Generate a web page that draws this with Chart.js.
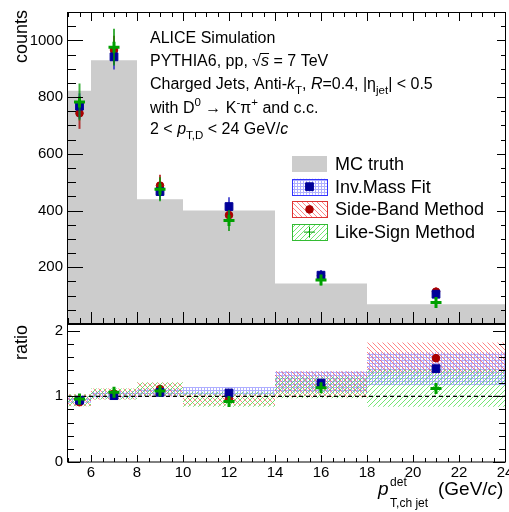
<!DOCTYPE html>
<html>
<head>
<meta charset="utf-8">
<script src="https://cdn.jsdelivr.net/npm/chart.js@4.4.0/dist/chart.umd.min.js"></script>
<style>
  html, body { margin: 0; padding: 0; background: #fff; }
  #wrap { width: 509px; height: 512px; }
</style>
</head>
<body>
<div id="wrap"><canvas id="chart"></canvas></div>
<script>
// bins of the jet pT distribution
const binEdges = [5, 6, 8, 10, 14, 18, 24];
const binCenters = [5.5, 7, 9, 12, 16, 21];
const xTicks = [6, 8, 10, 12, 14, 16, 18, 20, 22, 24];
const countTicks = [200, 400, 600, 800, 1000];
const ratioTicks = [0, 1, 2];

// counts
const mcTruth = [822, 930, 440, 400, 143, 70];
const invMass = [768, 942, 467, 414, 172, 105];
const invMassErr = [45, 45, 30, 33, 18, 14];
const sideBand = [743, 966, 488, 384, 170, 114];
const sideBandErr = [55, 50, 38, 35, 18, 14];
const likeSign = [783, 976, 475, 365, 155, 76];
const likeSignErr = [65, 65, 42, 37, 18, 14];

// ratio to MC truth
const invMassRatio = [0.94, 1.01, 1.06, 1.05, 1.20, 1.42];
const sideBandRatio = [0.91, 1.04, 1.11, 0.96, 1.18, 1.58];
const likeSignRatio = [0.96, 1.06, 1.08, 0.92, 1.13, 1.12];

// systematic bands of the ratio
const invMassBandHi = [1.00, 1.08, 1.12, 1.14, 1.38, 1.67];
const invMassBandLo = [0.90, 0.97, 1.00, 1.02, 1.05, 1.17];
const sideBandBandHi = [1.03, 1.12, 1.21, 1.03, 1.38, 1.82];
const sideBandBandLo = [0.85, 0.95, 1.00, 0.86, 0.98, 1.34];
const likeSignBandHi = [1.03, 1.12, 1.21, 1.07, 1.30, 1.41];
const likeSignBandLo = [0.85, 0.95, 1.00, 0.84, 0.97, 0.84];

const FONT = '"Liberation Sans", Arial, Helvetica, sans-serif';
const BLUE = '#000099', RED = '#aa0000', GREEN = '#00a000', GREY = '#cccccc';

// stepped histogram: value holds from left edge to next edge
const stepData = vals => binEdges.map((e, i) => ({ x: e, y: vals[Math.min(i, vals.length - 1)] }));
const pts = vals => binCenters.map((x, i) => ({ x: x, y: vals[i] }));

function makePattern(kind, color) {
    const c = document.createElement('canvas');
    const n = kind === 'dots' ? 3 : 5;
    c.width = n; c.height = n;
    const g = c.getContext('2d');
    g.fillStyle = color;
    if (kind === 'dots') {
        g.fillRect(0, 0, 3, 1);
        g.fillRect(0, 1, 1, 2);
    } else {
        for (let i = 0; i < n; i++) {
            if (kind === 'back') g.fillRect(i, i, 1, 1);
            else g.fillRect(i, n - 1 - i, 1, 1);
        }
    }
    return g.createPattern(c, 'repeat');
}
const bluePat = makePattern('dots', 'rgba(110,110,255,0.55)');
const redPat = makePattern('back', 'rgba(255,80,80,0.7)');
const greenPat = makePattern('fwd', 'rgba(80,225,80,0.8)');

const markers = {
    blue: { pointStyle: 'rect', pointRadius: 5.5, pointBackgroundColor: BLUE, pointBorderColor: BLUE, pointBorderWidth: 1 },
    red: { pointStyle: 'circle', pointRadius: 3.8, pointBackgroundColor: RED, pointBorderColor: RED, pointBorderWidth: 1 },
    green: { pointStyle: 'cross', pointRadius: 5.5, pointBackgroundColor: GREEN, pointBorderColor: GREEN, pointBorderWidth: 3 }
};

function band(label, vals, fillTarget, pat, order) {
    return {
        label: label, data: stepData(vals), yAxisID: 'y2', stepped: 'before',
        borderWidth: 0, pointRadius: 0, backgroundColor: pat,
        fill: fillTarget, order: order
    };
}

function pointSet(label, vals, axis, style, order, errs, errColor) {
    return Object.assign({
        label: label, data: pts(vals), yAxisID: axis, showLine: false,
        order: order, errors: errs, errorColor: errColor
    }, markers[style]);
}

const datasets = [
    { label: 'MC truth', data: stepData(mcTruth), yAxisID: 'y', stepped: 'before',
      borderWidth: 0, pointRadius: 0, backgroundColor: GREY, fill: 'origin', order: 20 },
    band('Inv.Mass Fit band', invMassBandHi, '+1', bluePat, 18),
    band('', invMassBandLo, false, 'transparent', 18),
    band('Side-Band band', sideBandBandHi, '+1', redPat, 17),
    band('', sideBandBandLo, false, 'transparent', 17),
    band('Like-Sign band', likeSignBandHi, '+1', greenPat, 16),
    band('', likeSignBandLo, false, 'transparent', 16),
    { label: 'unity', data: [{ x: 5, y: 1 }, { x: 24, y: 1 }], yAxisID: 'y2',
      borderColor: '#000', borderWidth: 1.2, borderDash: [4, 3], pointRadius: 0, fill: false, order: 15 },
    pointSet('Inv.Mass Fit', invMass, 'y', 'blue', 3, invMassErr, 'rgba(40,40,200,0.75)'),
    pointSet('Side-Band Method', sideBand, 'y', 'red', 4, sideBandErr, 'rgba(170,0,0,0.75)'),
    pointSet('Like-Sign Method', likeSign, 'y', 'green', 2, likeSignErr, 'rgba(0,150,0,0.75)'),
    pointSet('Inv.Mass Fit ratio', invMassRatio, 'y2', 'blue', 6),
    pointSet('Side-Band ratio', sideBandRatio, 'y2', 'red', 7),
    pointSet('Like-Sign ratio', likeSignRatio, 'y2', 'green', 5)
];

// vertical error bars under each marker set
const errorBars = {
    id: 'errorBars',
    beforeDatasetDraw(chart, args) {
        const ds = chart.data.datasets[args.index];
        if (!ds.errors) return;
        const ys = chart.scales[ds.yAxisID];
        const ctx = chart.ctx;
        ctx.save();
        ctx.strokeStyle = ds.errorColor;
        ctx.lineWidth = 2;
        args.meta.data.forEach((p, i) => {
            const v = ds.data[i].y, e = ds.errors[i];
            ctx.beginPath();
            ctx.moveTo(p.x, ys.getPixelForValue(v + e));
            ctx.lineTo(p.x, ys.getPixelForValue(v - e));
            ctx.stroke();
        });
        ctx.restore();
    }
};

// ROOT-like frames with inward ticks, and the x tick labels
const frames = {
    id: 'frames',
    afterDatasetsDraw(chart) {
        const { ctx, scales: { x, y, y2 } } = chart;
        const L = x.left, R = x.right;
        ctx.save();
        ctx.strokeStyle = '#000';
        ctx.lineWidth = 1;
        const line = (x1, y1, x2, y2_) => { ctx.beginPath(); ctx.moveTo(x1, y1); ctx.lineTo(x2, y2_); ctx.stroke(); };

        ctx.strokeRect(L - 0.5, y.top + 0.5, R - L + 1, y.bottom - y.top);
        ctx.strokeRect(L - 0.5, y2.top + 0.5, R - L + 1, y2.bottom - y2.top - 0.5);
        ctx.lineWidth = 2;
        line(L, y.bottom, R, y.bottom);
        ctx.lineWidth = 1;

        // x ticks every 0.5, major every 2
        for (let k = 10; k <= 48; k++) {
            const v = k / 2;
            const px = Math.round(x.getPixelForValue(v)) + 0.5;
            const major = k % 4 === 0;
            line(px, y.bottom, px, y.bottom - (major ? 12 : 6));
            line(px, y.top, px, y.top + (major ? 9 : 5));
            line(px, y2.bottom, px, y2.bottom - (major ? 7 : 4));
        }
        // top panel y ticks every 50, major every 200
        for (let v = 0; v <= 1100; v += 50) {
            const py = Math.round(y.getPixelForValue(v)) + 0.5;
            const major = v % 200 === 0;
            line(L, py, L + (major ? 15 : 8), py);
            line(R, py, R - (major ? 8 : 4), py);
        }
        // ratio y ticks every 0.2, major every 1
        for (let k = 0; k <= 10; k++) {
            const py = Math.round(y2.getPixelForValue(k / 5)) + 0.5;
            const major = k % 5 === 0;
            line(L, py, L + (major ? 12 : 6), py);
            line(R, py, R - (major ? 12 : 6), py);
        }

        ctx.fillStyle = '#000';
        ctx.font = '15px ' + FONT;
        ctx.textAlign = 'center';
        ctx.textBaseline = 'middle';
        xTicks.forEach(v => ctx.fillText(String(v), x.getPixelForValue(v), y2.bottom + 11));
        ctx.restore();
    }
};

// text with italic / subscript / superscript parts
function rich(ctx, x, y, parts, size) {
    let cx = x;
    for (const part of parts) {
        const [t, s] = typeof part === 'string' ? [part, ''] : part;
        let fs = size, dy = 0;
        if (s.includes('b')) { fs = size * 0.72; dy = size * 0.32; }
        if (s.includes('p')) { fs = size * 0.72; dy = -size * 0.42; }
        ctx.font = (s.includes('i') ? 'italic ' : '') + fs + 'px ' + FONT;
        ctx.fillText(t, cx, y + dy);
        cx += ctx.measureText(t).width;
    }
    return cx;
}

const annotations = {
    id: 'annotations',
    afterDraw(chart) {
        const ctx = chart.ctx;
        ctx.save();
        ctx.fillStyle = '#000';
        ctx.textBaseline = 'alphabetic';
        ctx.textAlign = 'left';

        // axis titles
        ctx.font = '18px ' + FONT;
        ctx.save();
        ctx.translate(27, 10);
        ctx.rotate(-Math.PI / 2);
        ctx.textAlign = 'right';
        ctx.fillText('counts', 0, 0);
        ctx.restore();
        ctx.save();
        ctx.translate(27, 325);
        ctx.rotate(-Math.PI / 2);
        ctx.textAlign = 'right';
        ctx.fillText('ratio', 0, 0);
        ctx.restore();

        ctx.font = 'italic 19px ' + FONT;
        ctx.fillText('p', 378, 495);
        const px = 378 + ctx.measureText('p').width + 1.5;
        ctx.font = '12px ' + FONT;
        ctx.fillText('det', px, 486);
        ctx.fillText('T,ch jet', px, 507);
        rich(ctx, 438, 495, ['(GeV/', ['c', 'i'], ')'], 19);

        // info block
        const S = 16, X = 150;
        rich(ctx, X, 43, ['ALICE Simulation'], S);
        let cx = rich(ctx, X, 66, ['PYTHIA6, pp, ', '\u221A'], S);
        const sx = cx;
        cx = rich(ctx, cx, 66, [['s', 'i']], S);
        ctx.lineWidth = 1;
        ctx.strokeStyle = '#000';
        ctx.beginPath();
        ctx.moveTo(sx - 1, 66 - 12.5);
        ctx.lineTo(cx, 66 - 12.5);
        ctx.stroke();
        rich(ctx, cx, 66, [' = 7 TeV'], S);
        rich(ctx, X, 89, ['Charged Jets, Anti-', ['k', 'i'], ['T', 'b'], ', ', ['R', 'i'], '=0.4, |\u03B7', ['jet', 'b'], '| < 0.5'], S);
        rich(ctx, X, 113, ['with D', ['0', 'p'], ' \u2192 K', ['-', 'p'], '\u03C0', ['+', 'p'], ' and c.c.'], S);
        rich(ctx, X, 134, ['2 < ', ['p', 'i'], ['T,D', 'b'], ' < 24 GeV/', ['c', 'i']], S);

        // legend
        const rows = [
            { text: 'MC truth', fill: GREY },
            { text: 'Inv.Mass Fit', fill: bluePat, border: '#3333ff', ds: datasets[8] },
            { text: 'Side-Band Method', fill: redPat, border: '#dd3333', ds: datasets[9] },
            { text: 'Like-Sign Method', fill: greenPat, border: '#33bb33', ds: datasets[10] }
        ];
        const bx = 292, bw = 35, bh = 16;
        rows.forEach((r, i) => {
            const cy = 164 + i * 22.7;
            ctx.fillStyle = r.fill;
            ctx.fillRect(bx, cy - bh / 2, bw, bh);
            if (r.border) {
                ctx.strokeStyle = r.border;
                ctx.lineWidth = 1;
                ctx.strokeRect(bx + 0.5, Math.round(cy - bh / 2) + 0.5, bw, bh);
                const d = r.ds;
                ctx.fillStyle = d.pointBackgroundColor;
                ctx.strokeStyle = d.pointBorderColor;
                Chart.helpers.drawPoint(ctx, {
                    pointStyle: d.pointStyle, radius: d.pointRadius, rotation: 0,
                    borderWidth: d.pointBorderWidth
                }, bx + bw / 2, cy);
            }
            ctx.fillStyle = '#000';
            ctx.font = '18px ' + FONT;
            ctx.textBaseline = 'middle';
            ctx.fillText(r.text, 335, cy + 1);
            ctx.textBaseline = 'alphabetic';
        });
        ctx.restore();
    }
};

const noPad = s => { s.paddingLeft = 0; s.paddingRight = 0; s.paddingTop = 0; s.paddingBottom = 0; };
const tickFont = { size: 15, family: FONT };
const plain = v => String(v);

new Chart(document.getElementById('chart'), {
    type: 'line',
    data: { datasets: datasets },
    options: {
        responsive: true,
        maintainAspectRatio: false,
        animation: false,
        layout: { autoPadding: false, padding: { top: 12, right: 4, left: 0, bottom: 0 } },
        plugins: { legend: { display: false }, tooltip: { enabled: false } },
        scales: {
            x: {
                type: 'linear', min: 5, max: 24,
                grid: { display: false, drawTicks: false }, border: { display: false },
                afterBuildTicks: s => { s.ticks = xTicks.map(v => ({ value: v })); },
                afterFit: s => { s.height = 50; noPad(s); },
                ticks: { display: false }
            },
            y2: {
                type: 'linear', min: 0, max: 2.1, position: 'left',
                stack: 'panels', stackWeight: 138,
                grid: { display: false, drawTicks: false }, border: { display: false },
                afterBuildTicks: s => { s.ticks = ratioTicks.map(v => ({ value: v })); },
                afterFit: s => { s.width = 68; noPad(s); },
                ticks: { color: '#000', font: tickFont, padding: 5, callback: plain }
            },
            y: {
                type: 'linear', min: 0, max: 1100, position: 'left',
                stack: 'panels', stackWeight: 312,
                grid: { display: false, drawTicks: false }, border: { display: false },
                afterBuildTicks: s => { s.ticks = countTicks.map(v => ({ value: v })); },
                afterFit: s => { s.width = 68; noPad(s); },
                ticks: { color: '#000', font: tickFont, padding: 5, callback: plain }
            }
        }
    },
    plugins: [errorBars, frames, annotations]
});
</script>
</body>
</html>
